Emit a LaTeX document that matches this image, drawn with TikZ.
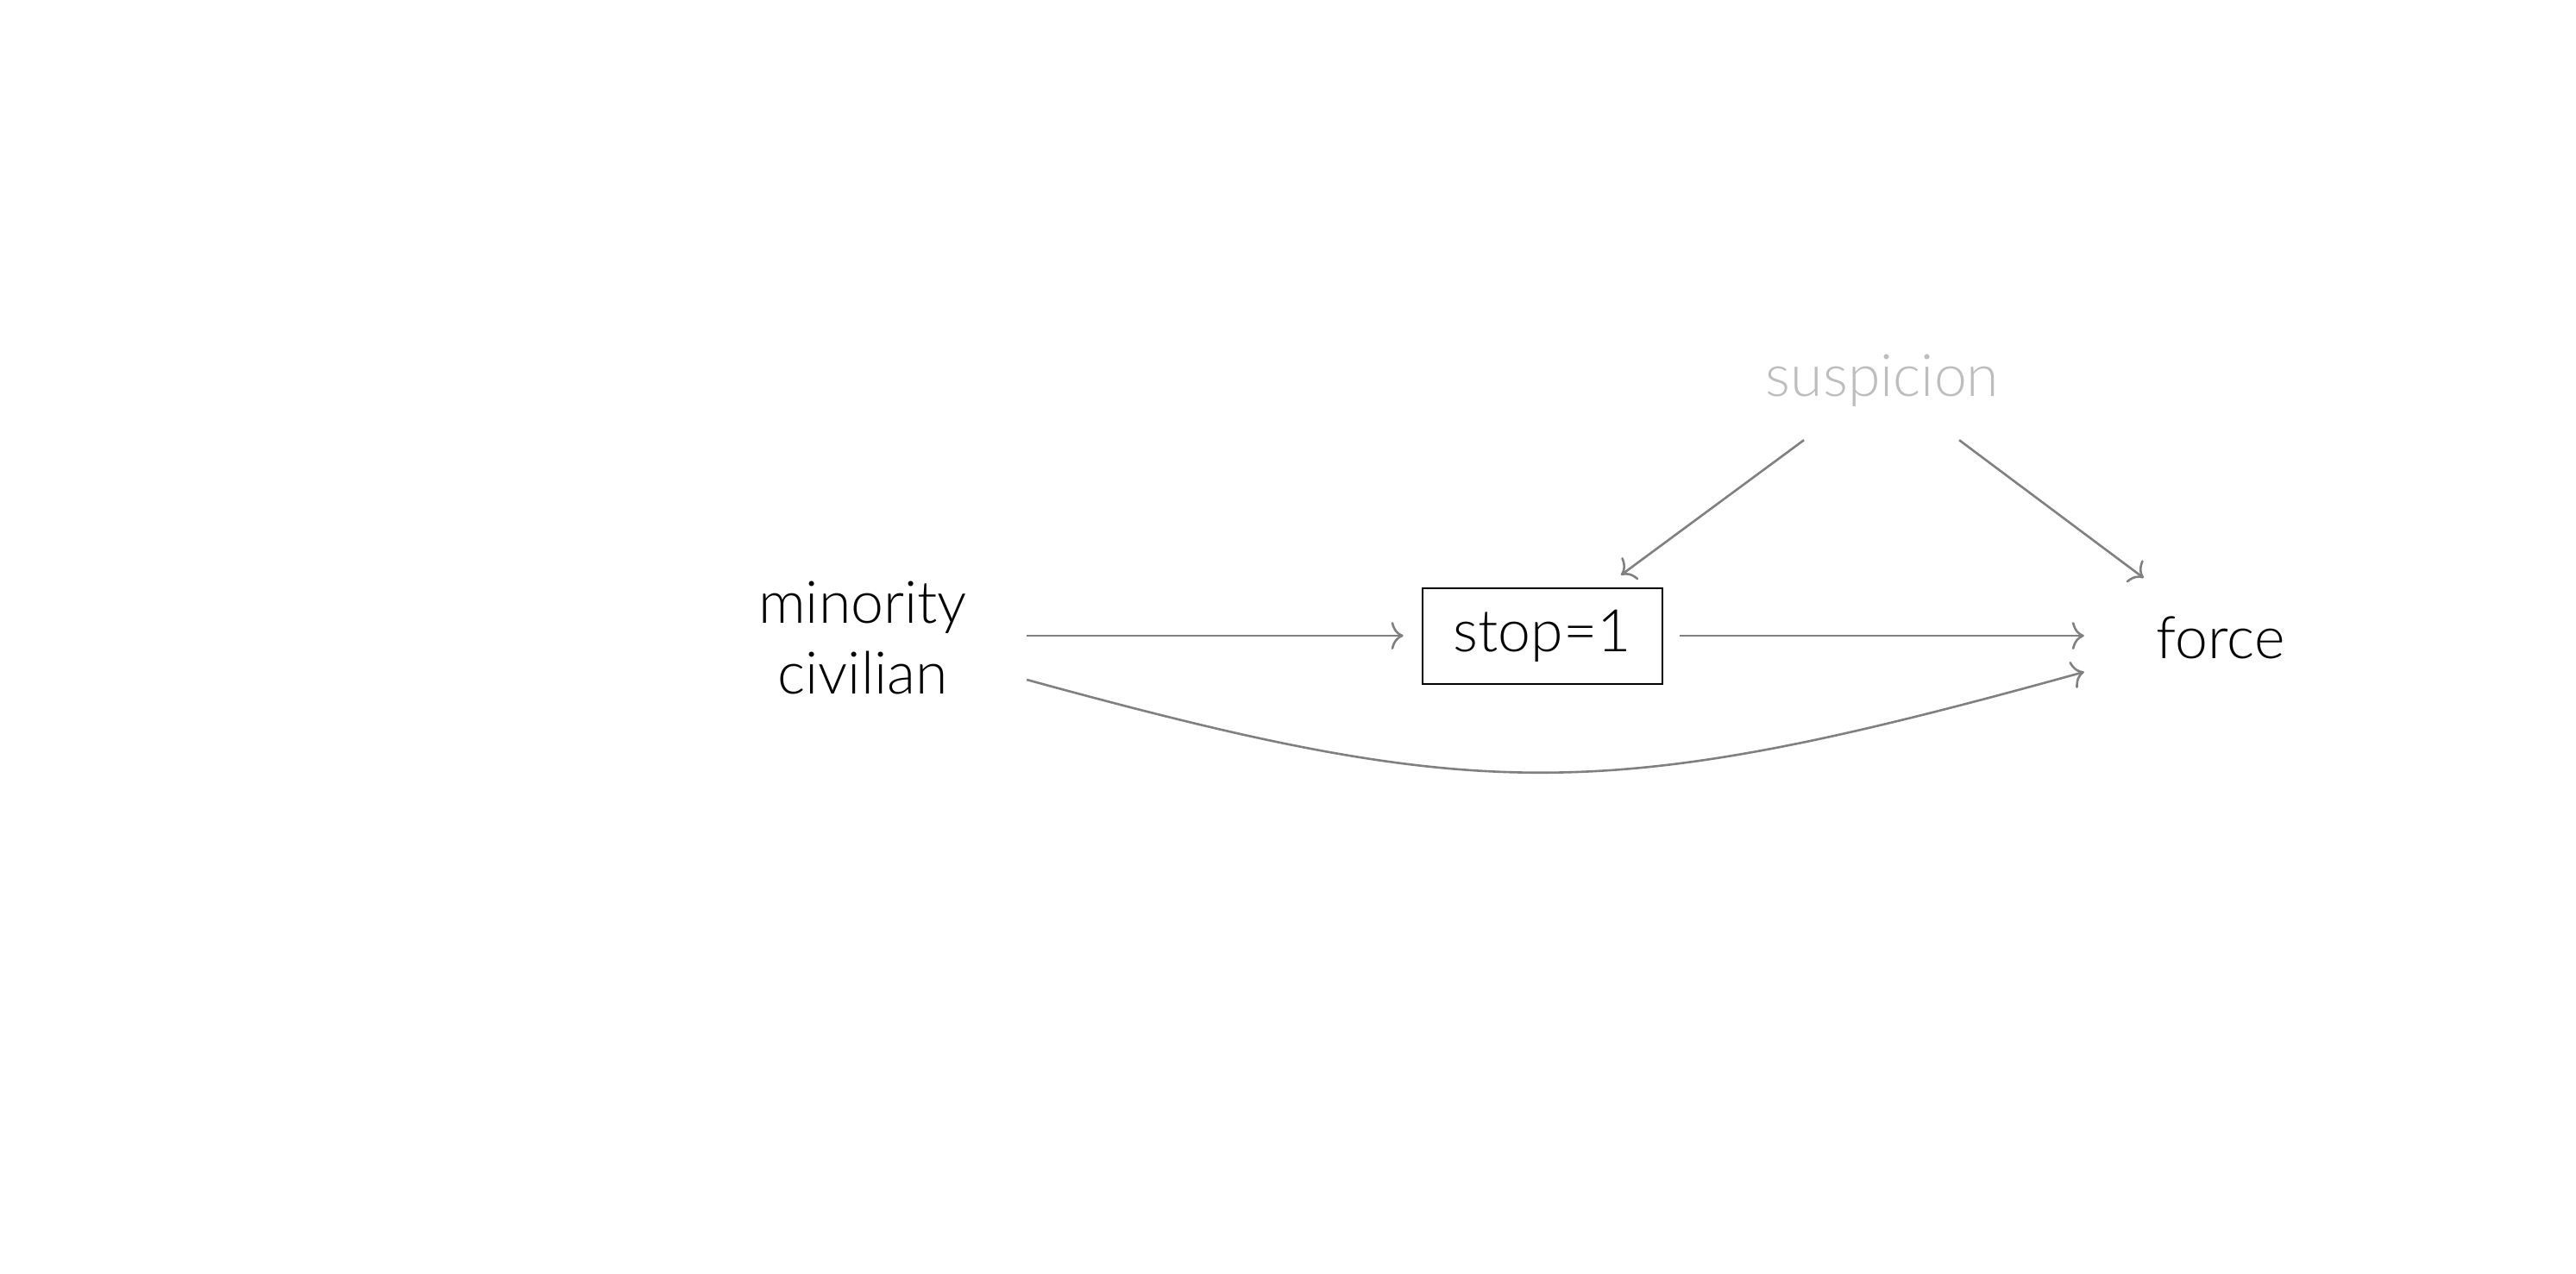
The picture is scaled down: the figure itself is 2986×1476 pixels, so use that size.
\documentclass[tikz,border=0pt]{standalone}
\usepackage{fontspec}
\setmainfont{Lato Light}
\usetikzlibrary{arrows.meta}
\definecolor{edgegray}{HTML}{808080}
\definecolor{latentgray}{HTML}{BDBDBD}
\tikzset{
  lbl/.style={font=\fontsize{68}{82}\selectfont, inner sep=0pt, align=center},
  stopbox/.style={lbl, draw=black, line width=2.7pt, minimum width=278pt, minimum height=111pt},
  edge/.style={draw=edgegray, line width=2.6pt, -{To[length=14pt,width=32pt]}},
}
\begin{document}
\begin{tikzpicture}[x=1pt,y=1pt]
\useasboundingbox (0,0) rectangle (2986,-1476);
\node[lbl, minimum width=380pt] (min) at (1000,-739) {minority\\civilian};
\node[stopbox] (stop) at (1788,-737.5) {stop=1};
\node[lbl, minimum width=316pt] (force) at (2574,-739) {force};
\node[lbl, text=latentgray, minimum height=138pt] (sus) at (2182,-441) {suspicion};
\draw[edge, shorten >=21pt] ([yshift=2pt]min.east) -- ([yshift=0.5pt]stop.west);
\draw[edge, shorten <=19pt] ([yshift=0.5pt]stop.east) -- ([yshift=2pt]force.west);
\draw[edge] ([yshift=-49pt]min.east) .. controls (1720,-933) and (1860,-933) .. ([yshift=-40pt]force.west);
\draw[edge] ([xshift=-91pt]sus.south) -- ([xshift=91pt,yshift=14pt]stop.north);
\draw[edge] ([xshift=89pt]sus.south) -- ([xshift=69pt,yshift=69pt]force.west);
\end{tikzpicture}
\end{document}
